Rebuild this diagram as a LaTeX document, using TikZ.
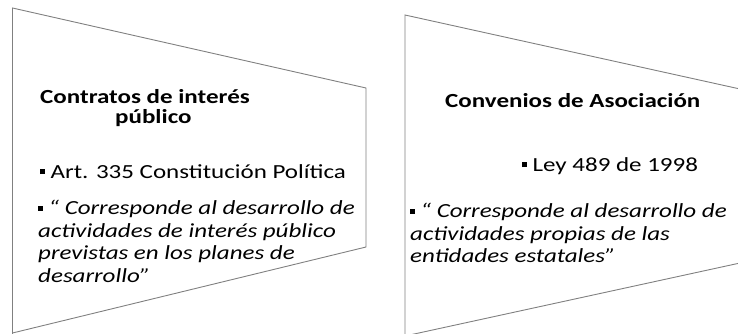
\documentclass[tikz,border=0pt]{standalone}
\usepackage{fontspec}
\setmainfont{Carlito}[FakeStretch=1.25]
\newcommand{\sqbul}{\raisebox{.2em}{\rule{.24em}{.24em}}}
\begin{document}
\begin{tikzpicture}[x=1pt,y=-1pt,
box/.style={draw=black!50,line width=.9pt},
txt/.style={anchor=base west,inner sep=0pt,font=\fontsize{20}{24}\selectfont},
head/.style={txt,font=\fontsize{20}{24}\selectfont\bfseries},
quote/.style={txt,font=\fontsize{20}{24}\selectfont\itshape}]
\useasboundingbox(0,0)rectangle(738,334);
\draw[box](12.5,340)--(12.5,8)--(366,88)--(366,247)--(12.5,333);
\draw[box](405,340)--(405,15)--(740,89)--(740,263)--(405,336);
\node[head](h1)at(40,104){Contratos de interés};
\node[head](h2)at(115,124){público};
\node[txt](a1)at(40,178){\sqbul\ Art. 335 Constitución Política};
\foreach \t[count=\i] in {\sqbul\ “ Corresponde al desarrollo de,actividades de interés público,previstas en los planes de,desarrollo”}
  \node[quote](q\i)at(38,{192+22.5*\i}){\t};
\node[head](h3)at(445,107){Convenios de Asociación};
\node[txt](a2)at(522,171){\sqbul\ Ley 489 de 1998};
\foreach \t[count=\i] in {\sqbul\ “ Corresponde al desarrollo de,actividades propias de las,entidades estatales”}
  \node[quote](r\i)at(410,{195+22.5*\i}){\t};
\end{tikzpicture}
\end{document}
